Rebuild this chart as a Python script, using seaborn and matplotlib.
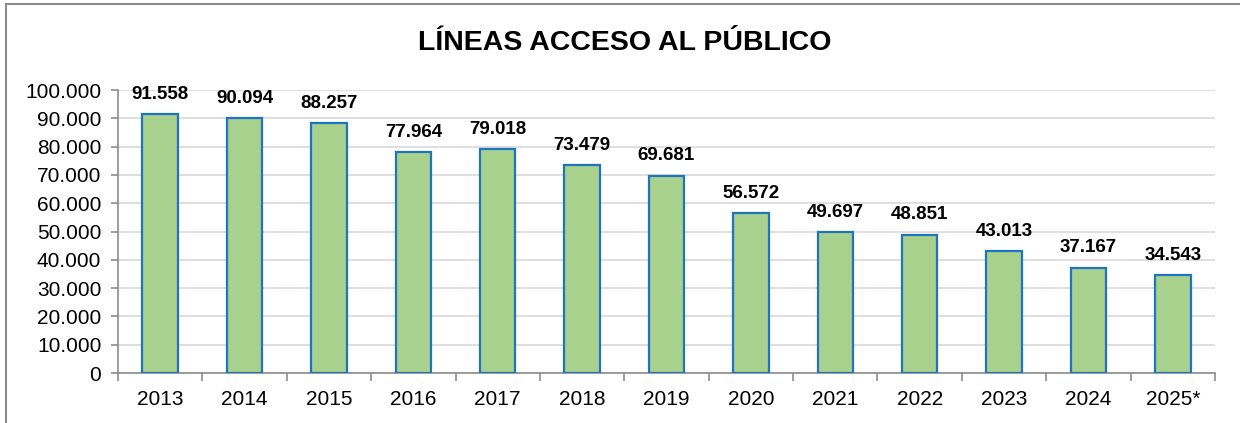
import matplotlib
matplotlib.use("Agg")
import matplotlib.pyplot as plt
from matplotlib.lines import Line2D
from matplotlib.ticker import FuncFormatter, FixedLocator
import seaborn as sns
import pandas as pd

years = ["2013", "2014", "2015", "2016", "2017", "2018", "2019",
         "2020", "2021", "2022", "2023", "2024", "2025*"]
lines = [91558, 90094, 88257, 77964, 79018, 73479, 69681,
         56572, 49697, 48851, 43013, 37167, 34543]
title = "LÍNEAS ACCESO AL PÚBLICO"

df = pd.DataFrame({"year": years, "lines": lines})

sns.set_theme(style="white")
plt.rcParams["font.family"] = ["Liberation Sans", "DejaVu Sans"]

fig = plt.figure(figsize=(12.4, 4.23), dpi=100)
ax = fig.add_axes([118 / 1240, 1 - 373 / 423, (1215 - 118) / 1240, (373 - 90) / 423])

sns.barplot(data=df, x="year", y="lines", ax=ax, color="#A9D18E",
            saturation=1, width=0.42, edgecolor="#1F74C2", linewidth=1.6,
            zorder=3)

ax.set_ylim(0, 100000)
ax.set_xlim(-0.5, len(years) - 0.5)
ax.set_yticks(range(0, 100001, 10000))
ax.yaxis.set_major_formatter(FuncFormatter(lambda v, p: f"{int(v):,}".replace(",", ".")))
ax.grid(axis="y", color="#D9D9D9", linewidth=1.2, zorder=0)
ax.set_axisbelow(True)
ax.set_xlabel("")
ax.set_ylabel("")

for s in ["top", "right"]:
    ax.spines[s].set_visible(False)
for s in ["left", "bottom"]:
    ax.spines[s].set_color("#8C8C8C")
    ax.spines[s].set_linewidth(1.2)

ax.tick_params(axis="y", which="major", left=True, length=5, width=1.2,
               color="#8C8C8C", labelsize=15, labelcolor="black", pad=7)
ax.tick_params(axis="x", which="major", bottom=False, length=0,
               labelsize=15, labelcolor="black", pad=12)
ax.xaxis.set_minor_locator(FixedLocator([i - 0.5 for i in range(len(years) + 1)]))
ax.tick_params(axis="x", which="minor", bottom=True, length=6, width=1.2,
               color="#8C8C8C")

for i, v in enumerate(lines):
    ax.text(i, v + 4000, f"{v:,}".replace(",", "."), ha="center", va="bottom",
            fontsize=13.5, fontweight="bold", color="black")

fig.text(625 / 1240, 1 - 43 / 423, title, ha="center", va="center",
         fontsize=20.5, fontweight="bold", color="black")

# chart frame: top and left edges
frame_col = "#8C8C8C"
fig.add_artist(Line2D([6 / 1240, 1.0], [1 - 4 / 423, 1 - 4 / 423],
                      transform=fig.transFigure, color=frame_col, linewidth=1.5))
fig.add_artist(Line2D([6 / 1240, 6 / 1240], [0, 1 - 4 / 423],
                      transform=fig.transFigure, color=frame_col, linewidth=1.5))

fig.savefig("out.png", dpi=100)
